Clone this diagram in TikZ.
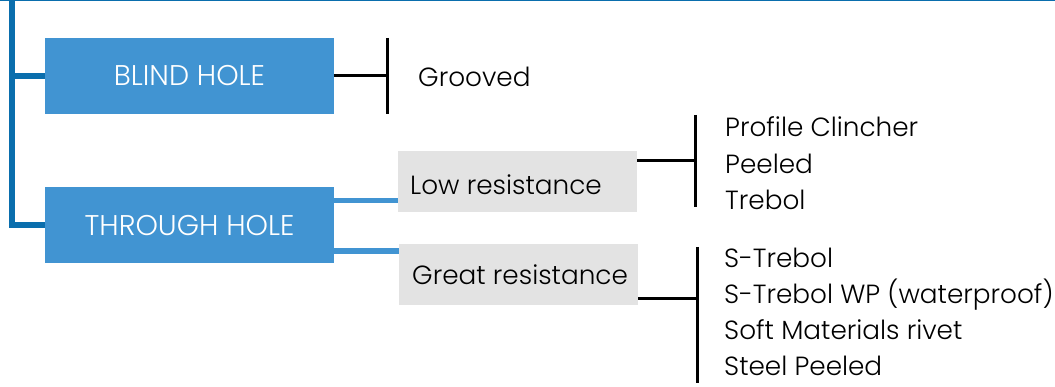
\documentclass[tikz,border=0pt]{standalone}
\usepackage{fontspec}
\setmainfont{Poppins}[UprightFont=* Light]
\usetikzlibrary{calc}
\definecolor{spineblue}{HTML}{0A6EAD}
\definecolor{holeblue}{HTML}{4194D2}
\definecolor{resgray}{HTML}{E3E3E3}
\begin{document}
\begin{tikzpicture}[x=1pt,y=-1pt,
  holebox/.style={fill=holeblue,text=white,minimum width=289pt,minimum height=76pt,inner sep=0pt,font=\fontsize{28.5}{32}\selectfont},
  resbox/.style={fill=resgray,minimum width=239pt,minimum height=61pt,inner sep=0pt},
  reslabel/.style={anchor=base west,inner sep=0pt,font=\fontsize{26.3}{32}\selectfont},
  item/.style={anchor=base west,inner sep=0pt,font=\fontsize{26.3}{32}\selectfont},
  bar/.style={line width=3pt},
  tie/.style={holeblue,line width=5.5pt}]
  \useasboundingbox (0,0) rectangle (1055,387);
  % top rule and spine
  \draw[spineblue,line width=1.5pt] (0,0.75)--(1055,0.75);
  \node[holebox] (blind) at (189.5,76) {BLIND HOLE};
  \node[holebox] (through) at (189.5,225.3) {THROUGH HOLE};
  \coordinate (spine) at (11.5,0);
  \draw[spineblue,line width=6pt] (spine) |- (through.west);
  \draw[spineblue,line width=6pt] (spine |- blind.west) -- (blind.west);
  % resistance boxes
  \node[resbox] (low) at (517.5,181.5) {};
  \node[resbox] (great) at (518.5,274.5) {};
  \node[reslabel] (lowtxt) at (410,194.3) {Low resistance};
  \node[reslabel] (greattxt) at (412,285) {Great resistance};
  \coordinate (t1) at ($(through.east)+(0,-24.8)$);
  \coordinate (t2) at ($(through.east)+(0,25.7)$);
  \draw[tie] (t1) -- (t1 -| low.west);
  \draw[tie] (t2) -- (t2 -| great.west);
  % blind hole rivets
  \coordinate (bbar) at (387.5,76);
  \draw[bar] (blind.east) -- (bbar);
  \draw[bar] ($(bbar)+(0,-38)$) -- ($(bbar)+(0,38)$);
  \node[item] (grooved) at (418,87) {Grooved};
  % low resistance rivets
  \coordinate (lbar) at (695.5,161);
  \draw[bar] (lbar -| low.east) -- (lbar);
  \draw[bar] ($(lbar)+(0,-46)$) -- ($(lbar)+(0,46)$);
  \foreach \t [count=\i] in {Profile Clincher,Peeled,Trebol}
    \node[item] (low\i) at (725,100.5+36.5*\i) {\t};
  % great resistance rivets
  \coordinate (gbar) at (697,299);
  \draw[bar] (gbar -| great.east) -- (gbar);
  \draw[bar] (697,247) -- (697,383);
  \foreach \t [count=\i] in {S-Trebol,S-Trebol WP (waterproof),Soft Materials rivet,Steel Peeled}
    \node[item] (great\i) at (724,232.3+35.7*\i) {\t};
\end{tikzpicture}
\end{document}
